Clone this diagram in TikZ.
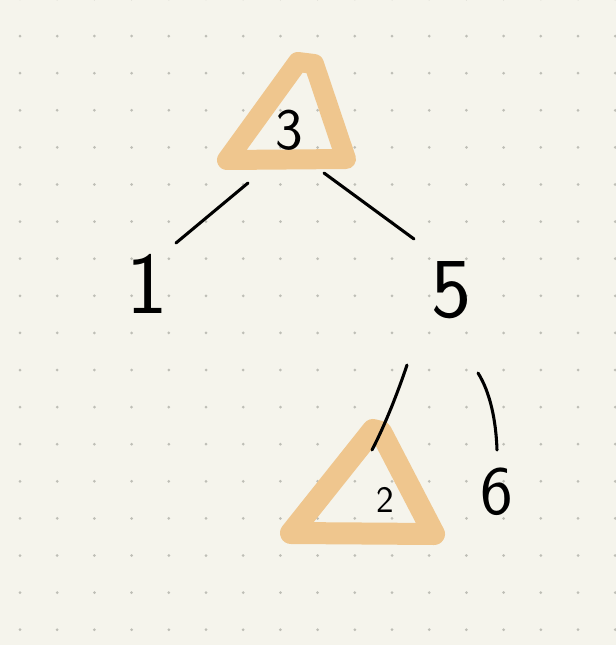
\documentclass[tikz,border=0pt]{standalone}
\usepackage{tikz}
\definecolor{paper}{RGB}{245,244,236}
\definecolor{marker}{RGB}{239,198,142}
\definecolor{dotgray}{RGB}{190,190,182}
\tikzset{
  digit/.style={inner sep=0.75pt, font=\sffamily},
  pen/.style={line width=2.3pt, line cap=round, black},
  hilite/.style={draw=marker, line join=round, line cap=round},
}

\begin{document}
\begin{tikzpicture}[x=0.75pt,y=0.75pt,yscale=-1,xscale=1]
\fill[paper] (0,0) rectangle (616,645);
\useasboundingbox (0,0) rectangle (616,645);
% dot grid
\foreach \i in {0,...,16}
  \foreach \j in {0,...,17}
    \fill[dotgray] ({20+37.2*\i},{-1+37.1*\j}) circle (1.5);
% highlighted subtrees
\draw[hilite, line width=15pt] (298,62) -- (227,160) -- (346,159) -- (314,64) -- cycle ;
\draw[hilite, line width=16.5pt] (373,430) -- (291,533) -- (434,534) -- (381,432) -- cycle ;
% keys
\node[digit, font=\sffamily\fontsize{44}{44}\selectfont] (n3) at (289,130) {3};
\node[digit, font=\sffamily\fontsize{66}{66}\selectfont] (n1) at (147,284) {1};
\node[digit, font=\sffamily\fontsize{64}{64}\selectfont] (n5) at (452,290) {5};
\node[digit, font=\sffamily\fontsize{28}{28}\selectfont] (n2) at (385,500) {2};
\node[digit, font=\sffamily\fontsize{52}{52}\selectfont] (n6) at (497,492) {6};
% edge ends
\coordinate (a31) at (248,183);
\coordinate (b31) at (176,243);
\coordinate (a35) at (324,173);
\coordinate (b35) at (414,239);
\coordinate (a52) at (407,365);
\coordinate (b52) at (372,450);
\coordinate (a56) at (478,373);
\coordinate (b56) at (497,450);
\draw[pen] (a31) -- (b31) ;
\draw[pen] (a35) -- (b35) ;
\draw[pen] (a52) .. controls (398,392) and (385,425) .. (b52) ;
\draw[pen] (a56) .. controls (490,392) and (496,420) .. (b56) ;
\end{tikzpicture}
\end{document}
